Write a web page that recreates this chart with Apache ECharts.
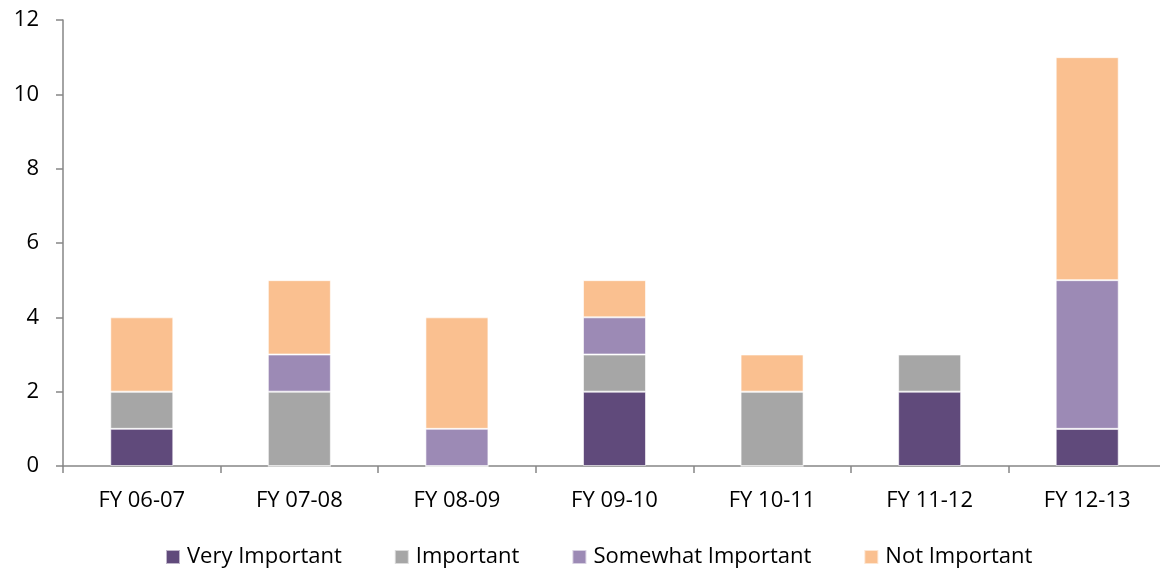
<!DOCTYPE html>
<html>
<head>
<meta charset="utf-8">
<script src="https://cdn.jsdelivr.net/npm/echarts@6/dist/echarts.min.js"></script>
<style>
  html, body { margin: 0; padding: 0; background: #fff; overflow: hidden; }
  /* drawing surface is a little wider than the window; the right edge is clipped */
  #chart { width: 1166px; height: 571px; }
</style>
</head>
<body>
<div id="chart"></div>
<script>
// Fiscal years on the category axis
const categories = ['FY 06-07', 'FY 07-08', 'FY 08-09', 'FY 09-10', 'FY 10-11', 'FY 11-12', 'FY 12-13'];

// Counts per importance rating, stacked per year
const veryImportant     = [1, 0, 0, 2, 0, 2, 1];
const important         = [1, 2, 0, 1, 2, 1, 0];
const somewhatImportant = [0, 1, 1, 1, 0, 0, 4];
const notImportant      = [2, 2, 3, 1, 1, 0, 6];

const seriesNames  = ['Very Important', 'Important', 'Somewhat Important', 'Not Important'];
const seriesData   = [veryImportant, important, somewhatImportant, notImportant];
const seriesColors = ['#604A7B', '#A6A6A6', '#9C8AB5', '#FAC090'];

const FONT = '"Open Sans", "Noto Sans", sans-serif';
const AXIS_COLOR = '#868686';

const chart = echarts.init(document.getElementById('chart'), null, { renderer: 'canvas' });

chart.setOption({
  animation: false,
  textStyle: { fontFamily: FONT },
  grid: { left: 63, right: 0, top: 20, bottom: 105, containLabel: false },
  legend: {
    top: 541,
    left: 160,
    itemWidth: 14,
    itemHeight: 14,
    itemGap: 52,
    icon: 'rect',
    textStyle: { fontFamily: FONT, fontSize: 22, color: '#000', padding: [0, 0, 0, 2] },
    data: seriesNames
  },
  xAxis: {
    type: 'category',
    data: categories,
    axisLine: { lineStyle: { color: AXIS_COLOR, width: 1.5 } },
    axisTick: { show: true, length: 7, alignWithLabel: false, lineStyle: { color: AXIS_COLOR, width: 1.5 } },
    axisLabel: { fontFamily: FONT, fontSize: 22, color: '#000', margin: 24 }
  },
  yAxis: {
    type: 'value',
    min: 0,
    max: 12,
    interval: 2,
    splitLine: { show: false },
    axisLine: { show: true, lineStyle: { color: AXIS_COLOR, width: 1.5 } },
    axisTick: { show: true, length: 7, lineStyle: { color: AXIS_COLOR, width: 1.5 } },
    axisLabel: { fontFamily: FONT, fontSize: 22, color: '#000', margin: 24 }
  },
  series: seriesNames.map((name, i) => ({
    name,
    type: 'bar',
    stack: 'total',
    barWidth: 63,
    data: seriesData[i],
    itemStyle: { color: seriesColors[i], borderColor: 'rgba(255,255,255,0.6)', borderWidth: 1 }
  }))
});
</script>
</body>
</html>
